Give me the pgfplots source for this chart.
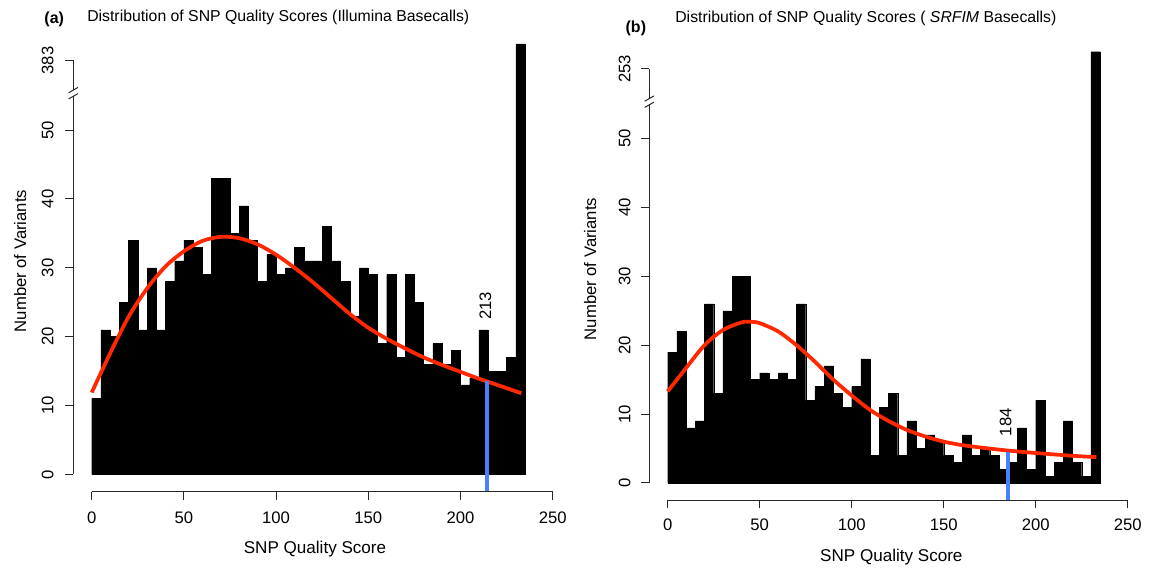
\documentclass[border=0pt]{standalone}
\usepackage{fontspec}
\setmainfont{Liberation Sans}
\usepackage{pgfplots}
\pgfplotsset{compat=1.18}
\definecolor{curvered}{RGB}{255,40,0}
\definecolor{vblue}{RGB}{72,128,255}
\definecolor{axgray}{RGB}{40,40,40}

\pgfplotsset{
  hist/.style={
    scale only axis, height=348.75pt,
    xmin=-10, xmax=260, ymin=-2.5, ymax=65,
    axis lines*=left, axis line style={draw=none},
    clip=false,
    tick align=outside, major tick length=6pt,
    tick style={axgray, line width=0.75pt},
    xtick={0,50,100,150,200,250}, xticklabels={0,50,100,150,200,250},
    ytick={0,10,20,30,40,50,60.1},
    tick label style={font=\fontsize{12.5}{15}\selectfont},
    anchor=south west,
  },
  bars/.style={ybar interval, fill=black, draw=black, line width=0.3pt},
  fit/.style={curvered, line width=2.8pt, smooth, tension=0.5},
  vline/.style={vblue, line width=2.7pt},
}

\begin{document}
\fontsize{12.5}{15}\selectfont
\begin{tikzpicture}
\useasboundingbox (0,0) rectangle (864.75pt,426.75pt);

% ---------------- (a) ----------------
\begin{axis}[hist, width=373.35pt, at={(54.98pt,57.98pt)},
  yticklabels={0,10,20,30,40,50,383},
  yticklabel style={xshift=-8.7pt, rotate=90, anchor=south, inner sep=0pt},
  xticklabel style={yshift=-9pt, anchor=north, inner sep=0pt}]
\addplot[bars] coordinates {
(0,11) (5,21) (10,20) (15,25) (20,34) (25,21) (30,30) (35,21) (40,28) (45,31)
(50,34) (55,33) (60,29) (65,43) (70,43) (75,35) (80,39) (85,34) (90,28) (95,32)
(100,29) (105,30) (110,33) (115,31) (120,31) (125,36) (130,31) (135,28) (140,23) (145,30)
(150,29) (155,19) (160,29) (165,17) (170,29) (175,25) (180,16) (185,19) (190,16) (195,18)
(200,13) (205,14) (210,21) (215,15) (220,15) (225,17) (230,62.5) (235,0)};
\addplot[fit] coordinates {
(0,11.9) (10,17.6) (20,22.9) (30,27.0) (40,30.2) (50,32.4) (60,33.9) (70,34.5) (80,34.3)
(90,33.4) (100,31.9) (110,30.0) (120,27.9) (130,25.6) (140,23.3) (150,21.3) (160,19.7)
(170,18.3) (180,17.0) (190,15.9) (200,14.9) (210,13.9) (220,13.0) (233,11.8)};
\addplot[vline] coordinates {(214.3,-2.5) (214.3,13.5)};
\node[rotate=90, font=\fontsize{12.5}{15}\selectfont] at (axis cs:213.5,24.5) {213};
% axis lines
\draw[axgray, line width=0.75pt] (axis cs:0,-2.5) -- (axis cs:250,-2.5);
\draw[axgray, line width=0.75pt] (axis cs:-10,0) -- (axis cs:-10,54.9);
\draw[axgray, line width=0.75pt] (axis cs:-10,55.8) -- (axis cs:-10,60.1);
\draw[axgray, line width=0.75pt] ([xshift=-3.5pt,yshift=-2pt]axis cs:-10,54.9) -- ([xshift=3.5pt,yshift=2pt]axis cs:-10,54.9);
\draw[axgray, line width=0.75pt] ([xshift=-3.5pt,yshift=-2pt]axis cs:-10,55.8) -- ([xshift=3.5pt,yshift=2pt]axis cs:-10,55.8);
\end{axis}

% ---------------- (b) ----------------
\begin{axis}[hist, width=372.6pt, at={(486.98pt,51.6pt)},
  yticklabels={0,10,20,30,40,50,253},
  yticklabel style={xshift=-7.8pt, rotate=90, anchor=south, inner sep=0pt},
  xticklabel style={yshift=-7.6pt, anchor=north, inner sep=0pt}]
\addplot[bars] coordinates {
(0,19) (5,22) (10,8) (15,9) (20,26) (25,13) (30,25) (35,30) (40,30) (45,15)
(50,16) (55,15) (60,16) (65,15) (70,26) (75,12) (80,14) (85,17) (90,13) (95,11)
(100,14) (105,18) (110,4) (115,11) (120,13) (125,4) (130,9) (135,5) (140,7) (145,6)
(150,4) (155,3) (160,7) (165,4) (170,5) (175,4) (180,2) (185,3) (190,8) (195,2)
(200,12) (205,1) (210,3) (215,9) (220,3) (225,1) (230,62.6) (235,0)};
\addplot[fit] coordinates {
(0,13.3) (10,16.7) (20,20.0) (30,22.2) (40,23.3) (45,23.4) (50,23.2) (60,22.0) (70,20.0)
(80,17.6) (90,15.0) (100,12.7) (110,10.6) (120,9.0) (130,7.7) (140,6.75) (150,6.0)
(160,5.5) (170,5.15) (185,4.7) (200,4.35) (220,3.95) (233,3.75)};
\addplot[vline] coordinates {(185,-2.5) (185,4.5)};
\node[rotate=90, font=\fontsize{12.5}{15}\selectfont] at (axis cs:183.7,8.8) {184};
\draw[axgray, line width=0.75pt] (axis cs:0,-2.5) -- (axis cs:250,-2.5);
\draw[axgray, line width=0.75pt] (axis cs:-10,0) -- (axis cs:-10,54.9);
\draw[axgray, line width=0.75pt] (axis cs:-10,55.8) -- (axis cs:-10,60.1);
\draw[axgray, line width=0.75pt] ([xshift=-3.5pt,yshift=-2pt]axis cs:-10,54.9) -- ([xshift=3.5pt,yshift=2pt]axis cs:-10,54.9);
\draw[axgray, line width=0.75pt] ([xshift=-3.5pt,yshift=-2pt]axis cs:-10,55.8) -- ([xshift=3.5pt,yshift=2pt]axis cs:-10,55.8);
\end{axis}

% ---------------- titles and labels ----------------
\node[anchor=base, font=\fontsize{12}{14}\bfseries] at (40.65pt,409.3pt) {(a)};
\node[anchor=base, font=\fontsize{11.85}{14}\selectfont] at (208.7pt,410.5pt) {Distribution of SNP Quality Scores (Illumina Basecalls)};
\node[anchor=base, font=\fontsize{12}{14}\bfseries] at (476.9pt,402.5pt) {(b)};
\node[anchor=base, font=\fontsize{11.85}{14}\selectfont] at (649.4pt,409.9pt) {Distribution of SNP Quality Scores ( \textit{SRFIM} Basecalls)};
\node[anchor=base, font=\fontsize{12.8}{15}\selectfont] at (236.25pt,11.78pt) {SNP Quality Score};
\node[anchor=base, font=\fontsize{12.8}{15}\selectfont] at (668.5pt,5.5pt) {SNP Quality Score};
\node[anchor=base, rotate=90, font=\fontsize{12.5}{15}\selectfont] at (19.5pt,231pt) {Number of Variants};
\node[anchor=base, rotate=90, font=\fontsize{12.5}{15}\selectfont] at (447pt,225pt) {Number of Variants};
\end{tikzpicture}
\end{document}
